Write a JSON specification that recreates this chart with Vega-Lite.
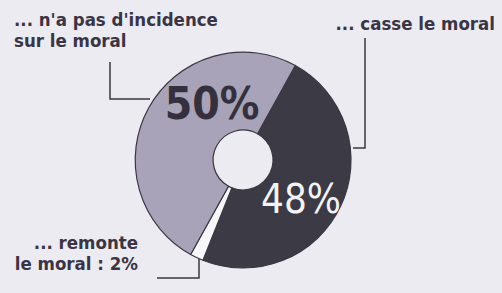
{
  "$schema": "https://vega.github.io/schema/vega-lite/v6.json",
  "width": 502,
  "height": 293,
  "autosize": "none",
  "padding": 0,
  "background": "#ecebf1",
  "config": {"view": {"stroke": null}},
  "layer": [
    {
      "data": {"values": [
        {"answer": "casse le moral", "value": 48, "ord": 1},
        {"answer": "remonte le moral", "value": 2, "ord": 2},
        {"answer": "n'a pas d'incidence", "value": 50, "ord": 3}
      ]},
      "mark": {"type": "arc", "x": 243, "y": 160, "radius": 108, "radius2": 30, "stroke": "#3a3742", "strokeWidth": 1.2},
      "encoding": {
        "theta": {"field": "value", "type": "quantitative", "stack": true, "scale": {"range": [0.506, 6.789]}},
        "order": {"field": "ord", "type": "quantitative"},
        "color": {"field": "answer", "type": "nominal", "legend": null,
          "scale": {"domain": ["casse le moral", "remonte le moral", "n'a pas d'incidence"], "range": ["#3c3a45", "#f7f7fa", "#a9a3b9"]}}
      }
    },
    {
      "data": {"values": [
        {"g": "a", "i": 1, "px": 110, "py": 62},
        {"g": "a", "i": 2, "px": 110, "py": 99},
        {"g": "a", "i": 3, "px": 150, "py": 99},
        {"g": "b", "i": 1, "px": 365, "py": 38},
        {"g": "b", "i": 2, "px": 365, "py": 148},
        {"g": "b", "i": 3, "px": 353, "py": 148},
        {"g": "c", "i": 1, "px": 157, "py": 278},
        {"g": "c", "i": 2, "px": 199, "py": 278},
        {"g": "c", "i": 3, "px": 199, "py": 259}
      ]},
      "mark": {"type": "line", "color": "#3a3742", "strokeWidth": 1.5},
      "encoding": {
        "x": {"field": "px", "type": "quantitative", "scale": {"domain": [0, 502]}, "axis": null},
        "y": {"field": "py", "type": "quantitative", "scale": {"domain": [0, 293], "reverse": true}, "axis": null},
        "detail": {"field": "g"},
        "order": {"field": "i", "type": "quantitative"}
      }
    },
    {
      "data": {"values": [
        {"t": "... n'a pas d'incidence", "px": 14, "py": 20},
        {"t": "sur le moral", "px": 14, "py": 41}
      ]},
      "mark": {"type": "text", "align": "left", "baseline": "middle", "font": "DejaVu Sans Condensed", "fontWeight": "bold", "fontSize": 18.5, "color": "#3a3445"},
      "encoding": {
        "x": {"field": "px", "type": "quantitative", "scale": {"domain": [0, 502]}, "axis": null},
        "y": {"field": "py", "type": "quantitative", "scale": {"domain": [0, 293], "reverse": true}, "axis": null},
        "text": {"field": "t"}
      }
    },
    {
      "data": {"values": [
        {"t": "... casse le moral", "px": 495, "py": 24},
        {"t": "... remonte", "px": 138, "py": 243},
        {"t": "le moral : 2%", "px": 138, "py": 264}
      ]},
      "mark": {"type": "text", "align": "right", "baseline": "middle", "font": "DejaVu Sans Condensed", "fontWeight": "bold", "fontSize": 18.5, "color": "#3a3445"},
      "encoding": {
        "x": {"field": "px", "type": "quantitative", "scale": {"domain": [0, 502]}, "axis": null},
        "y": {"field": "py", "type": "quantitative", "scale": {"domain": [0, 293], "reverse": true}, "axis": null},
        "text": {"field": "t"}
      }
    },
    {
      "data": {"values": [
        {"t": "50%", "px": 212, "py": 106}
      ]},
      "mark": {"type": "text", "align": "center", "baseline": "middle", "font": "DejaVu Sans Condensed", "fontWeight": "bold", "fontSize": 44, "color": "#34303d"},
      "encoding": {
        "x": {"field": "px", "type": "quantitative", "scale": {"domain": [0, 502]}, "axis": null},
        "y": {"field": "py", "type": "quantitative", "scale": {"domain": [0, 293], "reverse": true}, "axis": null},
        "text": {"field": "t"}
      }
    },
    {
      "data": {"values": [
        {"t": "48%", "px": 301, "py": 201}
      ]},
      "mark": {"type": "text", "align": "center", "baseline": "middle", "font": "DejaVu Sans Condensed", "fontWeight": "normal", "fontSize": 40, "color": "#f4f3f7"},
      "encoding": {
        "x": {"field": "px", "type": "quantitative", "scale": {"domain": [0, 502]}, "axis": null},
        "y": {"field": "py", "type": "quantitative", "scale": {"domain": [0, 293], "reverse": true}, "axis": null},
        "text": {"field": "t"}
      }
    }
  ]
}
